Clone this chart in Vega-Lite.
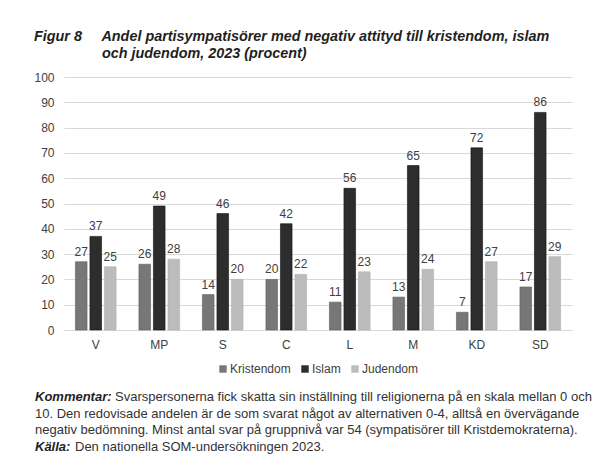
{
  "$schema": "https://vega.github.io/schema/vega-lite/v6.json",
  "padding": {"left": 33, "top": 28, "right": 5, "bottom": 5},
  "background": "white",
  "config": {
    "view": {"stroke": null},
    "font": "Liberation Sans",
    "concat": {"spacing": 16},
    "legend": {"layout": {"bottom": {"anchor": "middle"}}}
  },
  "title": {
    "text": [
      "Figur 8\u00a0\u00a0\u00a0\u00a0 Andel partisympatisörer med negativ attityd till kristendom, islam",
      "\u200b\u00a0\u00a0\u00a0\u00a0\u00a0\u00a0\u00a0\u00a0\u00a0\u00a0\u00a0\u00a0\u00a0\u00a0\u00a0\u00a0\u00a0och judendom, 2023 (procent)"
    ],
    "anchor": "start",
    "font": "Liberation Sans",
    "fontSize": 14.4,
    "fontStyle": "italic",
    "fontWeight": "bold",
    "color": "#1f1f1f",
    "lineHeight": 17,
    "offset": 10
  },
  "resolve": {"legend": {"color": "independent"}},
  "vconcat": [
    {
      "width": 508,
      "height": 253,
      "data": {
        "values": [
          {"parti": "V", "religion": "Kristendom", "andel": 27},
          {"parti": "V", "religion": "Islam", "andel": 37},
          {"parti": "V", "religion": "Judendom", "andel": 25},
          {"parti": "MP", "religion": "Kristendom", "andel": 26},
          {"parti": "MP", "religion": "Islam", "andel": 49},
          {"parti": "MP", "religion": "Judendom", "andel": 28},
          {"parti": "S", "religion": "Kristendom", "andel": 14},
          {"parti": "S", "religion": "Islam", "andel": 46},
          {"parti": "S", "religion": "Judendom", "andel": 20},
          {"parti": "C", "religion": "Kristendom", "andel": 20},
          {"parti": "C", "religion": "Islam", "andel": 42},
          {"parti": "C", "religion": "Judendom", "andel": 22},
          {"parti": "L", "religion": "Kristendom", "andel": 11},
          {"parti": "L", "religion": "Islam", "andel": 56},
          {"parti": "L", "religion": "Judendom", "andel": 23},
          {"parti": "M", "religion": "Kristendom", "andel": 13},
          {"parti": "M", "religion": "Islam", "andel": 65},
          {"parti": "M", "religion": "Judendom", "andel": 24},
          {"parti": "KD", "religion": "Kristendom", "andel": 7},
          {"parti": "KD", "religion": "Islam", "andel": 72},
          {"parti": "KD", "religion": "Judendom", "andel": 27},
          {"parti": "SD", "religion": "Kristendom", "andel": 17},
          {"parti": "SD", "religion": "Islam", "andel": 86},
          {"parti": "SD", "religion": "Judendom", "andel": 29}
        ]
      },
      "encoding": {
        "x": {
          "field": "parti",
          "type": "nominal",
          "sort": ["V", "MP", "S", "C", "L", "M", "KD", "SD"],
          "scale": {"paddingInner": 0.36, "paddingOuter": 0.18},
          "axis": {
            "title": null,
            "labelAngle": 0,
            "ticks": false,
            "domain": true,
            "domainColor": "#d9d9d9",
            "labelFont": "Liberation Sans",
            "labelFontSize": 12,
            "labelColor": "#404040",
            "labelPadding": 9
          }
        },
        "xOffset": {
          "field": "religion",
          "type": "nominal",
          "sort": ["Kristendom", "Islam", "Judendom"],
          "scale": {"paddingInner": 0.2, "paddingOuter": 0}
        },
        "y": {
          "field": "andel",
          "type": "quantitative",
          "scale": {"domain": [0, 100], "nice": false},
          "axis": {
            "title": null,
            "values": [0, 10, 20, 30, 40, 50, 60, 70, 80, 90, 100],
            "labelOverlap": false,
            "ticks": false,
            "domain": false,
            "gridColor": "#d9d9d9",
            "labelFont": "Liberation Sans",
            "labelFontSize": 12,
            "labelColor": "#404040",
            "labelPadding": 10
          }
        }
      },
      "layer": [
        {
          "mark": {"type": "bar", "strokeWidth": 0.6},
          "encoding": {
            "color": {
              "field": "religion",
              "type": "nominal",
              "sort": ["Kristendom", "Islam", "Judendom"],
              "scale": {
                "domain": ["Kristendom", "Islam", "Judendom"],
                "range": ["#777777", "#2d2d2d", "#bcbcbc"]
              },
              "legend": {
                "title": null,
                "orient": "bottom",
                "direction": "horizontal",
                "symbolType": "square",
                "symbolSize": 55,
                "symbolStrokeWidth": 0,
                "labelFont": "Liberation Sans",
                "labelFontSize": 12,
                "labelColor": "#404040",
                "columnPadding": 8,
                "labelOffset": 1,
                "offset": 13
              }
            },
            "stroke": {
              "field": "religion",
              "type": "nominal",
              "scale": {
                "domain": ["Kristendom", "Islam", "Judendom"],
                "range": ["#5e5e5e", "#111111", "#b0b0b0"]
              },
              "legend": null
            }
          }
        },
        {
          "mark": {
            "type": "text",
            "dy": -10,
            "font": "Liberation Sans",
            "fontSize": 12,
            "color": "#404040"
          },
          "encoding": {"text": {"field": "andel", "type": "quantitative"}}
        }
      ]
    },
    {
      "width": 508,
      "height": 50,
      "data": {
        "values": [
          {"row": 1, "style": "b", "text": "Kommentar:"},
          {"row": 1, "style": "n1", "text": "Svarspersonerna fick skatta sin inställning till religionerna på en skala mellan 0 och"},
          {"row": 2, "style": "n", "text": "10. Den redovisade andelen är de som svarat något av alternativen 0-4, alltså en övervägande"},
          {"row": 3, "style": "n", "text": "negativ bedömning. Minst antal svar på gruppnivå var 54 (sympatisörer till Kristdemokraterna)."},
          {"row": 4, "style": "b", "text": "Källa:"},
          {"row": 4, "style": "n4", "text": "Den nationella SOM-undersökningen 2023."}
        ]
      },
      "encoding": {
        "y": {
          "field": "row",
          "type": "ordinal",
          "scale": {"type": "point", "padding": 0},
          "axis": null
        },
        "text": {"field": "text"}
      },
      "layer": [
        {
          "transform": [{"filter": "datum.style == 'b'"}],
          "mark": {"type": "text", "align": "left", "baseline": "middle", "fontSize": 13, "fontWeight": "bold", "fontStyle": "italic", "color": "#1f1f1f"},
          "encoding": {"x": {"value": -29}}
        },
        {
          "transform": [{"filter": "datum.style == 'n1'"}],
          "mark": {"type": "text", "align": "left", "baseline": "middle", "fontSize": 13, "color": "#333333", "dx": 51},
          "encoding": {"x": {"value": 0}}
        },
        {
          "transform": [{"filter": "datum.style == 'n'"}],
          "mark": {"type": "text", "align": "left", "baseline": "middle", "fontSize": 13, "color": "#333333"},
          "encoding": {"x": {"value": -29}}
        },
        {
          "transform": [{"filter": "datum.style == 'n4'"}],
          "mark": {"type": "text", "align": "left", "baseline": "middle", "fontSize": 13, "color": "#333333", "dx": 11},
          "encoding": {"x": {"value": 0}}
        }
      ]
    }
  ]
}
